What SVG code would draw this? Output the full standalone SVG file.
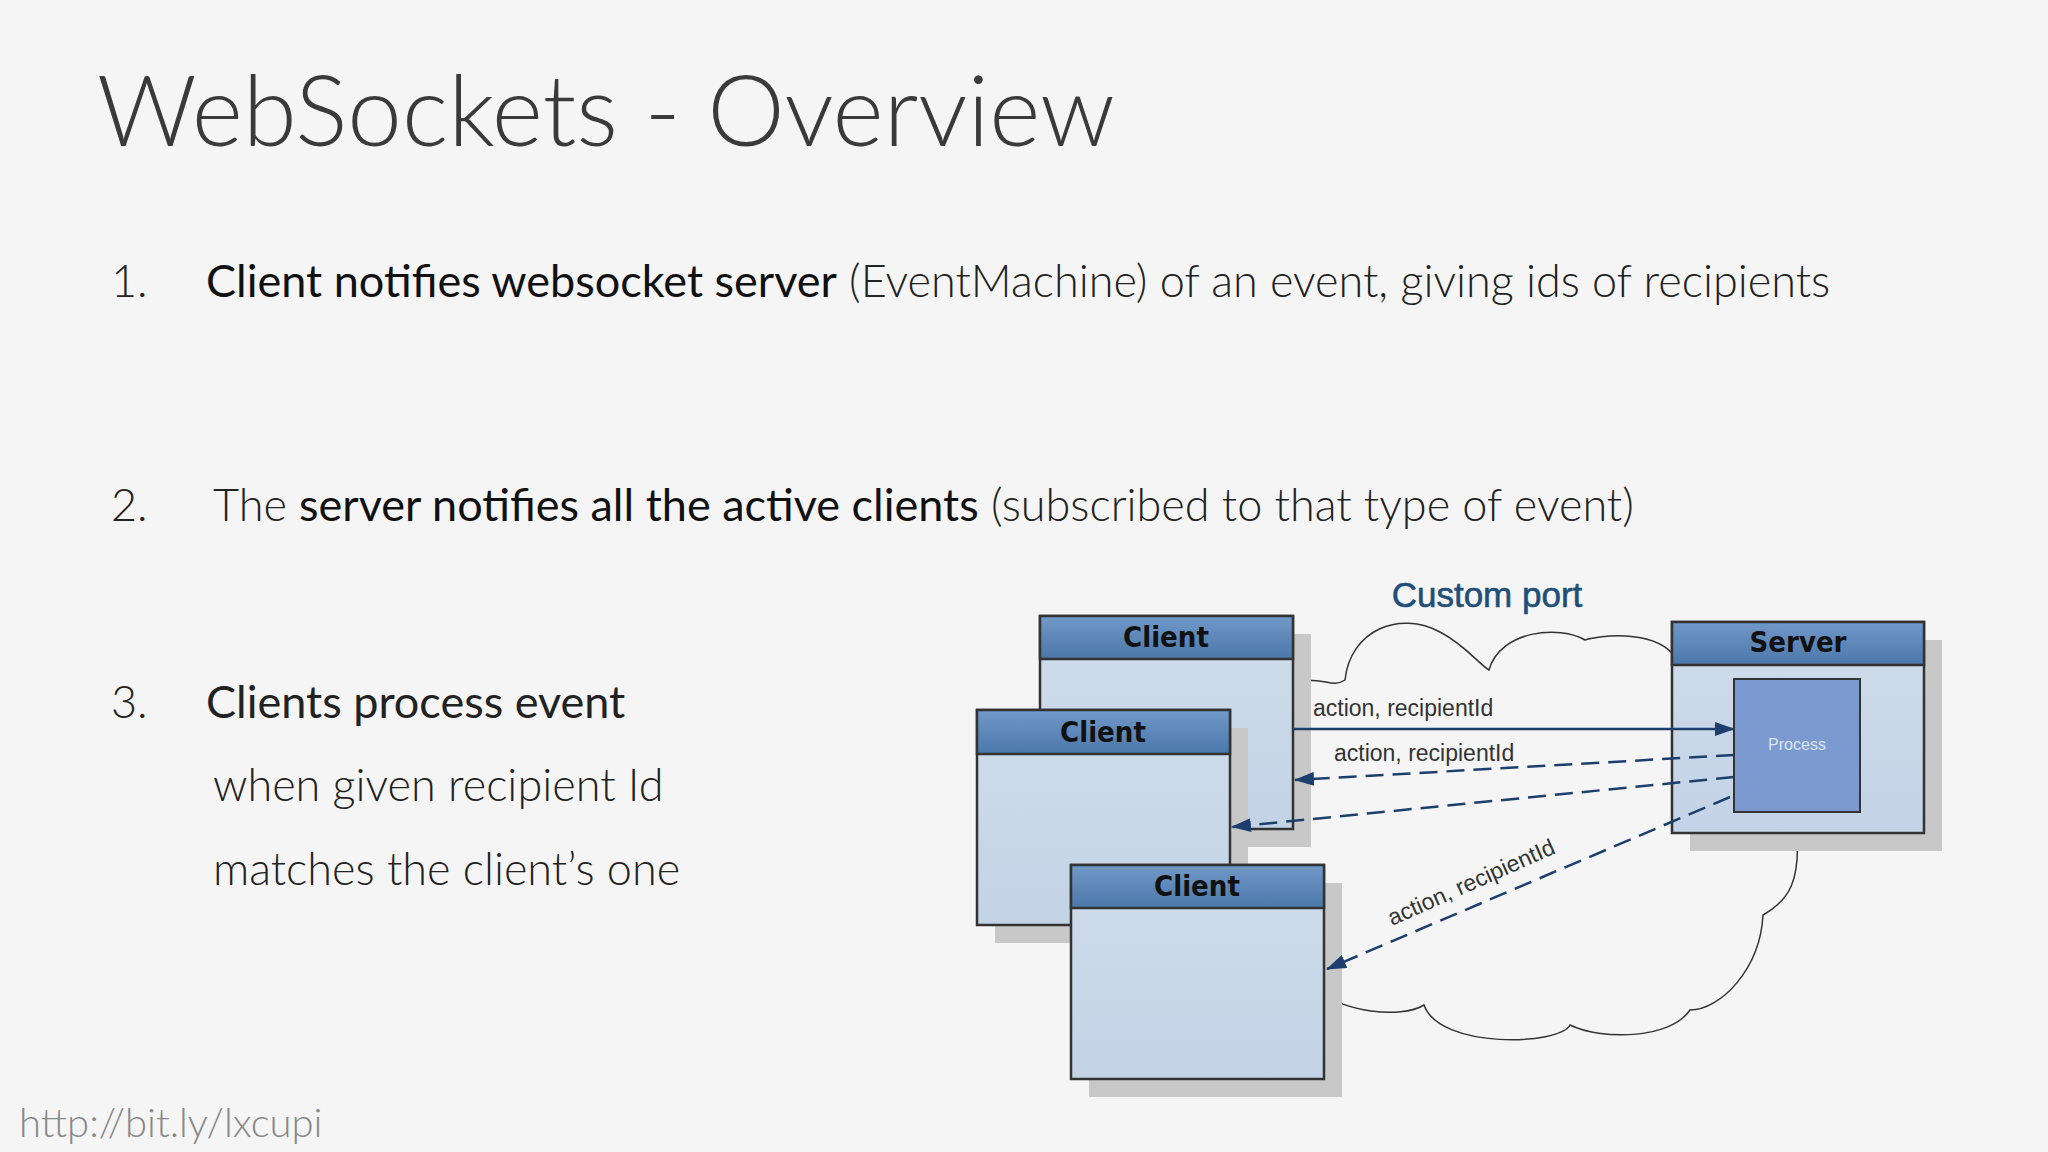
<svg xmlns="http://www.w3.org/2000/svg" width="2048" height="1152" viewBox="0 0 2048 1152">
<style>
.t{font-family:Lato,"Noto Sans",sans-serif;fill:#222}
.lt{font-weight:300}
.b{font-weight:400;fill:#111}
.hd{font-family:"DejaVu Sans Condensed","DejaVu Sans",sans-serif;font-weight:bold;font-size:29px;fill:#111;text-anchor:middle}
.lb{font-family:"Liberation Sans",Arial,sans-serif;font-size:23px;fill:#333}
.sh{fill:#c8c8c8}
.bd{fill:url(#gb);stroke:#333;stroke-width:2.5}
.hh{fill:url(#gh);stroke:#333;stroke-width:2.5}
.c{stroke:#1c3f6e;stroke-width:2.5;fill:none}
.d{stroke-dasharray:18 9}
</style>
<defs>
<linearGradient id="gh" x1="0" y1="0" x2="0" y2="1"><stop offset="0" stop-color="#7199c8"/><stop offset="1" stop-color="#4b77a9"/></linearGradient>
<linearGradient id="gb" x1="0" y1="0" x2="0" y2="1"><stop offset="0" stop-color="#cfdcea"/><stop offset="1" stop-color="#c3d3e6"/></linearGradient>
<marker id="a" markerWidth="20" markerHeight="14" refX="19" refY="7" orient="auto" markerUnits="userSpaceOnUse" viewBox="0 0 20 14"><path d="M0,0L20,7L0,14z" fill="#1c3f6e"/></marker>
</defs>
<rect width="2048" height="1152" fill="#f5f5f5"/>
<text class="t lt" x="97" y="146" font-size="98" style="fill:#3a3a3a">WebSockets - Overview</text>
<text class="t lt" x="111" y="297" font-size="45">1.</text>
<text class="t lt" x="206" y="297" font-size="45"><tspan class="b">Client notifies websocket server</tspan> (EventMachine) of an event, giving ids of recipients</text>
<text class="t lt" x="111" y="521" font-size="45">2.</text>
<text class="t lt" x="213" y="521" font-size="45">The <tspan class="b">server notifies all the active clients</tspan> (subscribed to that type of event)</text>
<text class="t lt" x="111" y="718" font-size="45">3.</text>
<text class="t" x="206" y="718" font-size="45">Clients process event</text>
<text class="t lt" x="213" y="801" font-size="45">when given recipient Id</text>
<text class="t lt" x="213" y="885" font-size="45">matches the client’s one</text>
<text class="t lt" x="19" y="1137" font-size="40" style="fill:#888">http://bit.ly/lxcupi</text>
<g id="cloud"><path d="M1293,686 C1320,672 1330,690 1345,680 C1350,630 1400,610 1440,632 C1465,645 1480,665 1489,670 C1500,630 1560,625 1585,640 C1600,635 1650,630 1672,653 M1797,833 C1800,880 1790,900 1763,915 C1760,970 1720,1010 1690,1010 C1670,1040 1600,1040 1570,1025 C1560,1045 1440,1050 1424,1005 C1400,1020 1340,1010 1324,993" fill="none" stroke="#333" stroke-width="1.5"/>
<text x="1487" y="607" font-family="Liberation Sans,Arial,sans-serif" font-size="35" fill="#1f4e79" stroke="#1f4e79" stroke-width="0.6" text-anchor="middle">Custom port</text></g>
<g id="client1"><rect class="sh" x="1058" y="634" width="253" height="213"/><rect class="bd" x="1040" y="616" width="253" height="213"/><rect class="hh" x="1040" y="616" width="253" height="43"/><text class="hd" x="1166" y="647">Client</text></g>
<g id="client2"><rect class="sh" x="995" y="728" width="253" height="215"/><rect class="bd" x="977" y="710" width="253" height="215"/><rect class="hh" x="977" y="710" width="253" height="44"/><text class="hd" x="1103" y="742">Client</text></g>
<g id="client3"><rect class="sh" x="1089" y="883" width="253" height="214"/><rect class="bd" x="1071" y="865" width="253" height="214"/><rect class="hh" x="1071" y="865" width="253" height="43"/><text class="hd" x="1197" y="896">Client</text></g>
<g id="server"><rect class="sh" x="1690" y="640" width="252" height="211"/><rect class="bd" x="1672" y="622" width="252" height="211"/><rect class="hh" x="1672" y="622" width="252" height="43"/><text class="hd" x="1798" y="652">Server</text>
<rect x="1734" y="679" width="126" height="133" fill="#7b9bd0" stroke="#333" stroke-width="2"/><text x="1797" y="750" font-family="Liberation Sans,Arial,sans-serif" font-size="16" fill="#dde4f2" text-anchor="middle">Process</text></g>
<g id="connectors">
<path class="c" d="M1293,729H1734" marker-end="url(#a)"/>
<path class="c d" d="M1734,755L1295,780" marker-end="url(#a)"/>
<path class="c d" d="M1734,777L1232,827" marker-end="url(#a)"/>
<path class="c d" d="M1730,797L1327,969" marker-end="url(#a)"/>
<text class="lb" x="1313" y="716">action, recipientId</text>
<text class="lb" x="1334" y="761">action, recipientId</text>
<text class="lb" transform="translate(1392,926) rotate(-24)">action, recipientId</text>
</g>
</svg>
